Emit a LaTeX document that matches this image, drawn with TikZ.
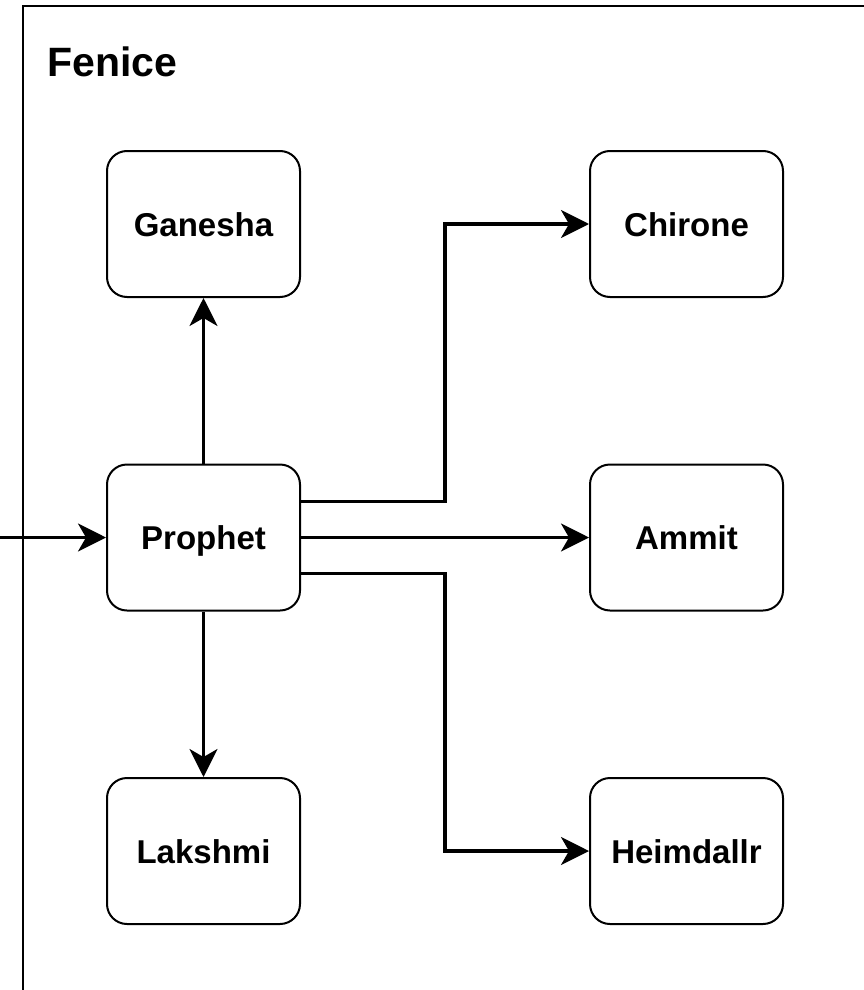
\documentclass[tikz,border=0pt]{standalone}
\usepackage{fontspec}
\setmainfont{Liberation Sans}
\usetikzlibrary{arrows.meta}
\tikzset{
  block/.style={draw=black, line width=2pt, rounded corners=20pt, fill=white,
    minimum width=193pt, minimum height=146pt, inner sep=0pt,
    text height=24pt, text depth=0pt,
    font=\fontsize{33}{40}\selectfont\bfseries},
  arr/.style={draw=black, line width=3.2pt,
    -{Stealth[length=28pt,width=28pt,inset=8pt]}},
  frame/.style={draw=black, line width=2.2pt}
}
\begin{document}
\begin{tikzpicture}[x=1pt,y=-1pt]
  \useasboundingbox (0,0) rectangle (864,990);
  \clip (0,0) rectangle (864,990);
  % container
  \draw[frame] (23,1100) -- (23,6) -- (900,6);
  \node[anchor=base west, inner sep=0pt, font=\fontsize{41}{48}\selectfont\bfseries] (title) at (47,76) {Fenice};
  % blocks
  \node[block] (G) at (203.5,224) {Ganesha};
  \node[block] (C) at (686.5,224) {Chirone};
  \node[block] (P) at (203.5,537.5) {Prophet};
  \node[block] (A) at (686.5,537.5) {Ammit};
  \node[block] (L) at (203.5,851) {Lakshmi};
  \node[block] (H) at (686.5,851) {Heimdallr};
  \coordinate (in) at (-10,537.5);
  % connectors
  \draw[arr] (in) -- (P.west);
  \draw[arr] (P.north) -- (G.south);
  \draw[arr] (P.south) -- (L.north);
  \draw[arr] (P.east) -- (A.west);
  \draw[arr] ([yshift=36pt]P.east) -- ++(144,0) |- (C.west);
  \draw[arr] ([yshift=-36pt]P.east) -- ++(144,0) |- (H.west);
\end{tikzpicture}
\end{document}
